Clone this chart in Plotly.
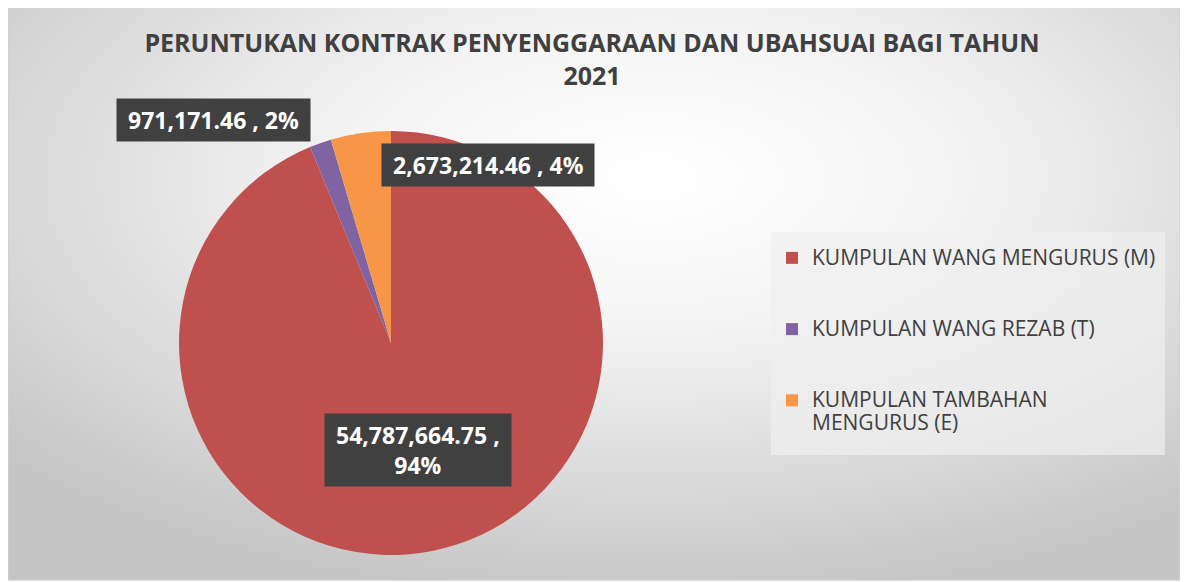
import base64
import plotly.graph_objects as go

labels = ["KUMPULAN WANG MENGURUS (M)", "KUMPULAN WANG REZAB (T)", "KUMPULAN TAMBAHAN MENGURUS (E)"]
legend_names = ["KUMPULAN WANG MENGURUS (M)", "KUMPULAN WANG REZAB (T)", "KUMPULAN TAMBAHAN<br>MENGURUS (E)"]
legend_pad = ["<br> <br> ", "<br> <br> ", ""]
values = [54787664.75, 971171.46, 2673214.46]
value_text = ["54,787,664.75 ,<br>94%", "971,171.46 , 2%", "2,673,214.46 , 4%"]
colors = ["#C0504D", "#8064A2", "#F79646"]

W, H = 1188, 582
OFF = 8  # page body margin


def px(x):
    return (x - OFF) / W


def py(y):
    return 1 - (y - OFF) / H


# radial gradient background as svg
svg = (
    '<svg xmlns="http://www.w3.org/2000/svg" width="1172" height="575" viewBox="0 0 1172 575">'
    '<defs><radialGradient id="g" cx="0.55" cy="0.3" r="0.75">'
    '<stop offset="0" stop-color="#ffffff"/><stop offset="0.35" stop-color="#f4f4f4"/>'
    '<stop offset="1" stop-color="#c4c4c4"/></radialGradient></defs>'
    '<rect width="1172" height="575" fill="url(#g)"/></svg>'
)
bg_src = "data:image/svg+xml;base64," + base64.b64encode(svg.encode()).decode()

names = ['<span style="font-size:21px">' + n.replace("<br>", '</span><br><span style="font-size:21px">') + "</span>" + p
         for n, p in zip(legend_names, legend_pad)]

fig = go.Figure(go.Pie(
    labels=names,
    values=values,
    sort=False,
    direction="clockwise",
    rotation=0,
    marker=dict(colors=colors, line=dict(color="white", width=0)),
    textinfo="none",
    customdata=labels,
    hovertemplate="%{customdata}<br>%{value:,.2f}<br>%{percent}<extra></extra>",
    domain=dict(x=[px(179), px(603)], y=[py(555), py(131)]),
))

# data label boxes (centre positions)
label_pos = [(418, 450), (214, 120), (488, 165)]
anns = []
for (x, y), t in zip(label_pos, value_text):
    anns.append(dict(x=px(x), y=py(y), xref="paper", yref="paper",
                     text="<b>&nbsp;" + t.replace("<br>", "&nbsp;<br>&nbsp;") + "&nbsp;</b>",
                     showarrow=False, align="center", xanchor="center", yanchor="middle",
                     font=dict(family="Open Sans", size=23, color="white"),
                     bgcolor="#404040", borderpad=5))

fig.update_layout(
    width=W, height=H,
    margin=dict(l=0, r=0, t=0, b=0),
    paper_bgcolor="white",
    plot_bgcolor="white",
    title=dict(text="<b>PERUNTUKAN KONTRAK PENYENGGARAAN DAN UBAHSUAI BAGI TAHUN<br>2021</b>",
               x=px(592), xanchor="center", y=py(52), yanchor="top",
               font=dict(family="Open Sans", size=25, color="#404040")),
    legend=dict(x=px(772), xanchor="left", y=py(240), yanchor="top",
                bgcolor="rgba(0,0,0,0)", valign="top",
                font=dict(family="Open Sans", size=17.5, color="#404040"),
                itemwidth=30, traceorder="normal"),
    annotations=anns,
    images=[dict(source=bg_src, xref="paper", yref="paper", x=px(8), y=py(5),
                 sizex=(1180 - 8) / W, sizey=(580 - 5) / H, sizing="stretch",
                 xanchor="left", yanchor="top", layer="below")],
    shapes=[
        dict(type="rect", xref="paper", yref="paper", x0=px(771), x1=px(1165), y0=py(455), y1=py(232),
             fillcolor="rgba(240,240,240,0.7)", line=dict(width=0), layer="below"),
        dict(type="rect", xref="paper", yref="paper", x0=px(8), x1=px(1180), y0=py(580), y1=py(5),
             line=dict(color="#d0d0d0", width=1.5)),
    ],
)

fig.write_html("out.html")
